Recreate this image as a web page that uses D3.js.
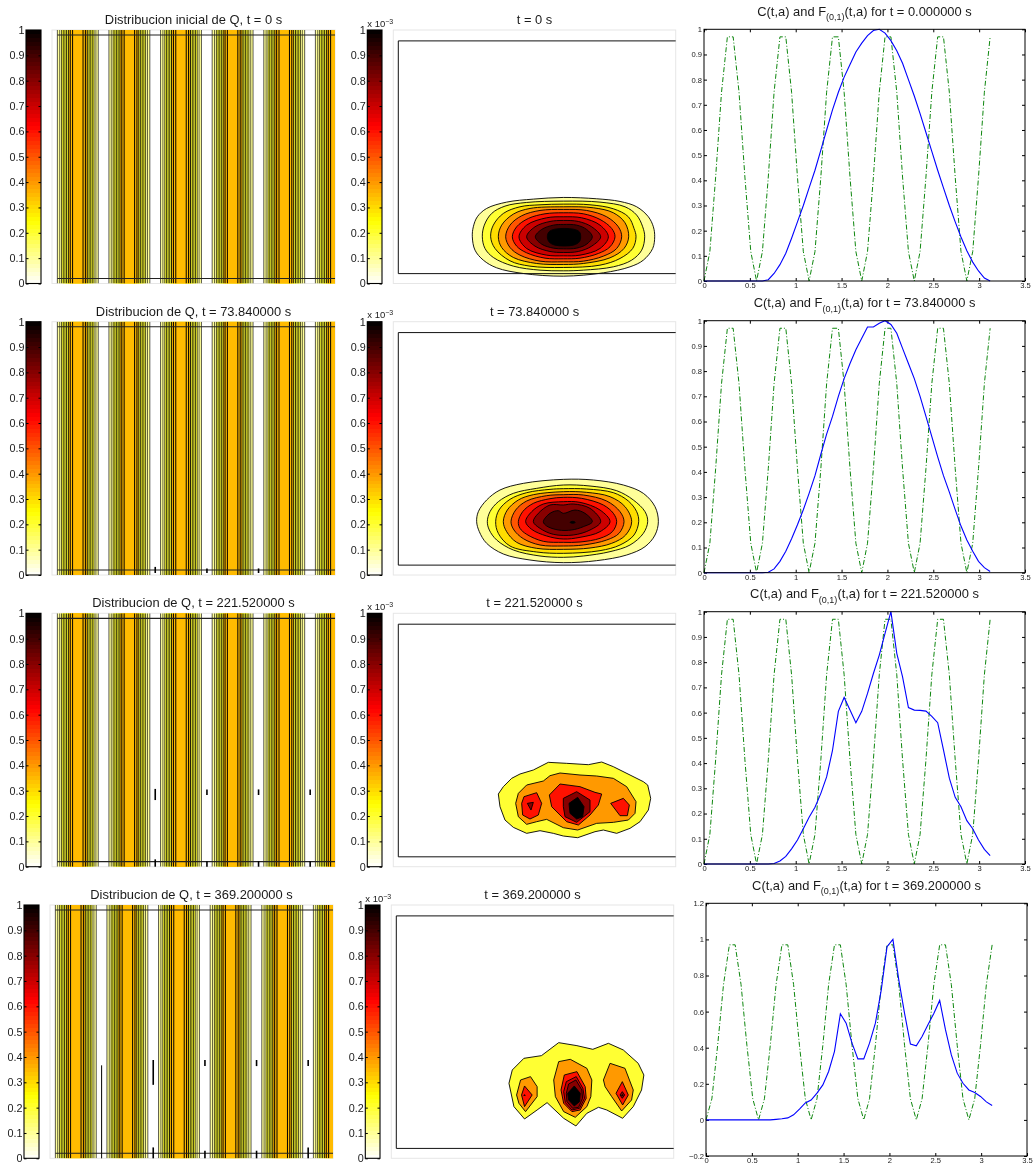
<!DOCTYPE html>
<html>
  <head>
    <meta charset="UTF-8">
    <title>Distribucion de Q</title>
    <script src="https://d3js.org/d3.v7.min.js"></script>
    <style>
      body { margin: 0; background: #fff; }
      svg { display: block; filter: blur(0.35px); }
      text { font-family: "Liberation Sans", Arial, sans-serif; fill: #1a1a1a; }
      .title { font-size: 12.9px; text-anchor: middle; }
      .bar text { font-size: 10.8px; }
      .small text { font-size: 7.6px; }
      .cell { shape-rendering: crispEdges; }
      .domain { display: none; }
    </style>
  </head>
  <body>
    <div id="chart"></div>
    <script>
      const leftTitles = ["Distribucion inicial de Q, t = 0 s", "Distribucion de Q, t = 73.840000 s", "Distribucion de Q, t = 221.520000 s", "Distribucion de Q, t = 369.200000 s"];
      const midTitles = ["t = 0 s", "t = 73.840000 s", "t = 221.520000 s", "t = 369.200000 s"];
      const rightTimes = ["0.000000", "73.840000", "221.520000", "369.200000"];

      const barTicks = [0, 0.1, 0.2, 0.3, 0.4, 0.5, 0.6, 0.7, 0.8, 0.9, 1];
      const barLabels = ["0", "0.1", "0.2", "0.3", "0.4", "0.5", "0.6", "0.7", "0.8", "0.9", "1"];
      const xTicks = [0, 0.5, 1, 1.5, 2, 2.5, 3, 3.5];
      const xLabels = ["0", "0.5", "1", "1.5", "2", "2.5", "3", "3.5"];
      const yTicksWide = [-0.2, 0, 0.2, 0.4, 0.6, 0.8, 1, 1.2];
      const yLabelsWide = ["\u22120.2", "0", "0.2", "0.4", "0.6", "0.8", "1", "1.2"];

      // the a grid shared by both curves in the right column
      const aValues = [0, 0.064, 0.127, 0.191, 0.255, 0.318, 0.382, 0.446, 0.51, 0.573, 0.637, 0.701, 0.764, 0.828, 0.892, 0.955, 1.019, 1.083, 1.146, 1.21, 1.274, 1.337, 1.401, 1.465, 1.528, 1.592, 1.656, 1.72, 1.783, 1.847, 1.911, 1.974, 2.038, 2.102, 2.165, 2.229, 2.293, 2.356, 2.42, 2.484, 2.548, 2.611, 2.675, 2.739, 2.802, 2.866, 2.93, 2.993, 3.057, 3.12];
      const fValues = [0, 0.117, 0.413, 0.75, 0.97, 0.97, 0.75, 0.413, 0.117, 0, 0.117, 0.413, 0.75, 0.97, 0.97, 0.75, 0.413, 0.117, 0, 0.117, 0.413, 0.75, 0.97, 0.97, 0.75, 0.413, 0.117, 0, 0.117, 0.413, 0.75, 0.97, 0.97, 0.75, 0.413, 0.117, 0, 0.117, 0.413, 0.75, 0.97, 0.97, 0.75, 0.413, 0.117, 0, 0.117, 0.413, 0.75, 0.97];
      const cValues0 = [0, 0, 0, 0, 0, 0, 0, 0, 0, 0, 0, 0.005, 0.03, 0.065, 0.11, 0.17, 0.235, 0.3, 0.37, 0.44, 0.52, 0.6, 0.68, 0.75, 0.81, 0.86, 0.91, 0.945, 0.975, 0.995, 1, 0.985, 0.955, 0.915, 0.865, 0.8, 0.735, 0.665, 0.59, 0.515, 0.44, 0.37, 0.3, 0.235, 0.175, 0.12, 0.075, 0.04, 0.012, 0];
      const cValues1 = [0, 0, 0, 0, 0, 0, 0, 0, 0, 0, 0, 0.002, 0.015, 0.045, 0.085, 0.135, 0.19, 0.25, 0.315, 0.385, 0.47, 0.55, 0.62, 0.7, 0.77, 0.83, 0.885, 0.93, 0.975, 0.975, 0.99, 1, 0.985, 0.95, 0.89, 0.83, 0.77, 0.7, 0.62, 0.54, 0.46, 0.385, 0.32, 0.25, 0.185, 0.13, 0.085, 0.045, 0.02, 0.005];
      const cValues2 = [0, 0, 0, 0, 0, 0, 0, 0, 0, 0, 0, 0, 0.002, 0.012, 0.03, 0.06, 0.095, 0.14, 0.185, 0.225, 0.28, 0.345, 0.45, 0.605, 0.66, 0.61, 0.56, 0.605, 0.676, 0.755, 0.828, 0.914, 1, 0.835, 0.742, 0.62, 0.61, 0.609, 0.606, 0.585, 0.56, 0.452, 0.34, 0.264, 0.227, 0.172, 0.14, 0.095, 0.058, 0.033];
      const cValues3 = [0, 0, 0, 0, 0, 0, 0, 0, 0, 0, 0, 0, 0.003, 0.006, 0.011, 0.028, 0.06, 0.094, 0.11, 0.148, 0.194, 0.268, 0.38, 0.588, 0.536, 0.425, 0.338, 0.338, 0.425, 0.536, 0.72, 0.96, 1, 0.776, 0.59, 0.42, 0.41, 0.462, 0.527, 0.59, 0.662, 0.5, 0.36, 0.259, 0.203, 0.166, 0.152, 0.13, 0.1, 0.08];

      // stripes of the left column: centres on a, half widths of the contour lines, level used to fill each band
      const stripeCenters = [0.2865, 0.859, 1.432, 2.005, 2.578, 3.151];
      const stripeHalfWidths = [0.227, 0.201, 0.18, 0.161, 0.143, 0.125, 0.105, 0.084, 0.058];
      const stripeLevels = [0.1, 0.1, 0.2, 0.2, 0.2, 0.2, 0.35, 0.35, 0.35];
      const stripeLineWeights = [0.65, 0.6, 0.7, 0.7, 0.7, 0.8, 0.9, 1, 1];
      const edgeLevels = [0.02, 0.98];

      // short vertical marks left in the gaps: [a, y from, y to]
      const gapMarks0 = [];
      const gapMarks1 = [[1.146, 0.008, 0.032], [1.72, 0.008, 0.026], [2.293, 0.008, 0.026]];
      const gapMarks2 = [[1.146, 0.263, 0.307], [1.146, 0, 0.029], [1.72, 0.283, 0.305], [1.72, 0, 0.022], [2.293, 0.283, 0.305], [2.293, 0, 0.022], [2.866, 0.283, 0.305], [2.866, 0, 0.022]];
      const gapMarks3 = [[0.573, 0, 0.367], [1.146, 0.29, 0.388], [1.146, 0, 0.043], [1.72, 0.364, 0.388], [1.72, 0, 0.03], [2.293, 0.364, 0.388], [2.293, 0, 0.03], [2.866, 0.364, 0.388], [2.866, 0, 0.043]];

      // contour rings of the middle column in readout units (see fieldDomains)
      const levels0 = [0.1, 0.2, 0.3, 0.4, 0.5, 0.6, 0.7, 0.8, 0.9, 1];
      const rings0 = [
        [[367,710],[370,680],[382,650],[410,625],[470,606],[550,597],[640,592],[740,596],[810,604],[860,620],[895,650],[910,680],[914,710],[908,745],[880,780],[840,800],[760,818],[640,828],[520,820],[440,803],[400,780],[375,750]],
        [[397,710],[403,675],[425,640],[465,618],[530,607],[640,603],[750,606],[825,620],[860,645],[878,680],[884,710],[875,750],[845,780],[790,800],[700,810],[640,812],[570,810],[490,798],[430,772],[405,745]],
        [[422,710],[430,675],[460,640],[510,620],[570,614],[640,612],[720,614],[790,626],[835,650],[852,685],[858,710],[848,745],[810,775],[750,795],[640,802],[540,798],[480,782],[435,745]],
        [[445,710],[455,675],[490,642],[540,625],[640,620],[730,623],[790,638],[825,668],[836,710],[822,745],[780,773],[700,790],[640,793],[560,790],[490,772],[455,742]],
        [[467,710],[480,675],[515,647],[570,631],[640,628],[710,631],[770,650],[805,680],[815,710],[800,745],[760,768],[700,783],[640,785],[570,783],[510,765],[480,742]],
        [[487,710],[500,680],[535,655],[585,641],[640,638],[700,641],[750,658],[785,685],[795,710],[780,740],[745,760],[690,774],[640,776],[585,774],[530,758],[500,738]],
        [[507,710],[530,675],[590,653],[640,650],[695,653],[750,675],[775,710],[750,745],[690,765],[640,767],[590,765],[530,745]],
        [[530,710],[555,680],[600,664],[640,661],[685,664],[725,680],[752,710],[725,738],[685,754],[640,757],[600,754],[555,738]],
        [[556,710],[575,688],[610,675],[640,673],[680,675],[710,688],[727,710],[710,732],[680,744],[640,746],[610,744],[575,732]],
        [[592,710],[597,695],[615,687],[670,687],[688,695],[692,710],[688,725],[670,735],[615,735],[597,725]]
      ];
      const levels1 = [0.1, 0.2, 0.3, 0.4, 0.5, 0.6, 0.7, 0.8, 0.9, 1];
      const rings1 = [
        [[380,665],[385,635],[410,600],[450,570],[520,550],[640,538],[730,540],[820,555],[880,580],[915,620],[925,665],[915,705],[885,740],[830,765],[740,782],[640,788],[540,780],[460,762],[410,730],[388,695]],
        [[412,665],[420,635],[445,605],[490,580],[560,565],[640,555],[720,558],[800,572],[850,600],[885,635],[893,665],[880,700],[840,735],[780,755],[700,768],[640,772],[570,768],[490,750],[440,720],[418,690]],
        [[437,665],[447,630],[480,598],[530,578],[600,568],[640,566],[710,567],[790,578],[835,603],[860,635],[866,665],[852,705],[810,735],[750,752],[640,760],[560,756],[480,738],[445,700]],
        [[460,665],[472,630],[505,600],[550,584],[640,575],[710,577],[780,590],[825,620],[845,665],[827,705],[785,730],[720,744],[640,748],[560,745],[500,727],[470,695]],
        [[483,665],[497,630],[530,603],[590,587],[640,584],[700,585],[770,603],[810,635],[822,665],[807,700],[770,720],[700,735],[640,738],[570,735],[520,716],[492,690]],
        [[505,665],[518,635],[550,610],[600,596],[640,592],[695,595],[760,615],[790,640],[800,665],[787,695],[750,715],[690,726],[640,727],[580,724],[530,703],[510,685]],
        [[527,665],[545,635],[580,612],[640,605],[690,607],[750,630],[780,665],[750,695],[690,712],[640,717],[590,708],[545,688]],
        [[550,665],[565,640],[600,615],[640,615],[670,612],[720,625],[752,665],[720,690],[670,705],[610,703],[570,685]],
        [[580,665],[600,640],[625,632],[640,640],[675,630],[705,640],[727,665],[700,680],[665,690],[625,690],[590,678]],
        [[660,667],[668,664],[676,667],[668,670]]
      ];
      const levels2 = [0.2, 0.4, 0.6, 0.6, 0.6, 0.8, 0.8, 1];
      const rings2 = [
        [[445,612],[460,590],[485,565],[510,552],[550,540],[595,517],[650,520],[715,524],[755,516],[790,530],[840,555],[880,575],[893,585],[902,625],[895,660],[870,695],[840,715],[800,730],[760,720],[735,725],[683,743],[640,738],[610,730],[570,722],[530,730],[490,712],[465,690],[450,650]],
        [[497,640],[505,610],[530,585],[580,573],[600,557],[630,549],[690,555],[740,558],[790,565],[830,590],[858,635],[855,670],[835,690],[790,697],[740,700],[683,720],[640,713],[590,688],[560,695],[530,703],[505,680]],
        [[515,640],[522,620],[560,608],[575,640],[565,675],[540,687],[518,675]],
        [[598,615],[630,582],[690,590],[735,607],[755,612],[745,645],[720,675],[685,705],[650,695],[605,650]],
        [[782,640],[820,625],[838,645],[832,677],[810,677]],
        [[532,640],[550,637],[543,660]],
        [[640,625],[680,605],[720,630],[720,665],[680,697],[645,680],[640,650]],
        [[657,640],[683,622],[702,650],[698,680],[680,687],[660,670]]
      ];
      const levels3 = [0.2, 0.4, 0.4, 0.4, 0.6, 0.6, 0.6, 0.7, 0.8, 0.8, 1, 1, 1];
      const rings3 = [
        [[475,610],[485,570],[520,535],[573,527],[625,488],[680,497],[728,508],[775,490],[820,510],[865,550],[882,585],[875,630],[850,680],[818,715],[770,690],[745,682],[710,700],[677,738],[640,715],[590,668],[560,690],[522,717],[490,680]],
        [[498,645],[510,600],[540,590],[560,620],[560,650],[525,695],[505,670]],
        [[610,600],[625,545],[660,538],[710,565],[725,600],[722,650],[710,680],[675,712],[640,695],[615,650]],
        [[760,600],[780,550],[825,565],[850,630],[845,660],[815,693],[785,650],[765,620]],
        [[513,645],[522,618],[545,645],[522,680]],
        [[632,630],[642,585],[680,575],[705,620],[708,655],[690,690],[665,695],[640,670]],
        [[798,640],[817,605],[835,645],[818,675]],
        [[640,635],[648,605],[678,590],[698,625],[703,655],[688,685],[665,690],[645,668]],
        [[648,640],[655,612],[677,600],[695,630],[697,655],[685,682],[667,685],[650,665]],
        [[810,645],[817,635],[824,645],[817,655]],
        [[652,640],[672,618],[690,640],[688,665],[672,678],[655,660]],
        [[520,646],[522,644],[524,646],[522,648]],
        [[815,646],[817,644],[819,646],[817,648]]
      ];

      const fieldDomains = [
        { x: [130, 977], y: [850, 90] },
        { x: [130, 977], y: [825, 65] },
        { x: [130, 977], y: [830, 70] },
        { x: [120, 972], y: [835, 75] }
      ];

      const cSeries = [cValues0, cValues1, cValues2, cValues3];
      const levelSets = [levels0, levels1, levels2, levels3];
      const ringSets = [rings0, rings1, rings2, rings3];
      const gapSets = [gapMarks0, gapMarks1, gapMarks2, gapMarks3];

      // layout, in pixels, one entry per row
      const rowTops = [30, 321.7, 613.3, 905];
      const rowBottoms = [283.5, 575, 866.7, 1158.3];
      const lineTops = [29.3, 320.7, 611.7, 903.3];
      const lineBottoms = [281, 572.7, 864, 1156];
      const rowShift = [0, 0, 0, -2];

      const width = 1035;
      const height = 1167;

      const svg = d3.select("#chart")
        .append("svg")
        .attr("width", width)
        .attr("height", height);

      // reversed "hot" colormap
      const color = d3.scaleLinear()
        .domain([0, 0.25, 0.625, 1])
        .range(["#ffffff", "#ffff00", "#ff0000", "#000000"]);
      const barCells = d3.range(64);

      function drawColorbar(x0, x1, top, bottom) {
        const y = d3.scaleLinear().domain([0, 1]).range([bottom, top]);
        const g = svg.append("g").attr("class", "bar");
        g.selectAll("rect.cell")
          .data(barCells)
          .enter()
          .append("rect")
          .attr("class", "cell")
          .attr("x", x0)
          .attr("width", x1 - x0)
          .attr("y", d => y((d + 1) / 64))
          .attr("height", d => y(d / 64) - y((d + 1) / 64) + 0.5)
          .attr("fill", d => color((d + 0.5) / 64));
        g.append("g")
          .attr("transform", `translate(${x0},0)`)
          .call(d3.axisLeft(y).tickValues(barTicks).tickFormat((d, i) => barLabels[i]).tickSizeInner(-2.5).tickSizeOuter(0).tickPadding(1.5));
        g.append("g")
          .attr("transform", `translate(${x1},0)`)
          .call(d3.axisRight(y).tickValues(barTicks).tickFormat("").tickSizeInner(-2.5).tickSizeOuter(0));
        g.append("rect")
          .attr("x", x0)
          .attr("y", top)
          .attr("width", x1 - x0)
          .attr("height", bottom - top)
          .attr("fill", "none")
          .attr("stroke", "#000")
          .attr("stroke-width", 1.1);
      }

      leftTitles.forEach((title, row) => {
        const shift = rowShift[row];
        const top = rowTops[row];
        const bottom = rowBottoms[row];

        // left column: colorbar + stripes
        drawColorbar(26 + shift, 41 + shift, top, bottom);
        const ax = d3.scaleLinear().domain([0, Math.PI]).range([52 + shift, 335 + shift]);
        const ay = d3.scaleLinear().domain([0, 1]).range([bottom, top]);
        svg.append("clipPath").attr("id", `clip${row}`)
          .append("rect")
          .attr("x", 52 + shift).attr("y", top)
          .attr("width", 283).attr("height", bottom - top);
        svg.append("rect")
          .attr("x", 52 + shift).attr("y", top)
          .attr("width", 283).attr("height", bottom - top)
          .attr("fill", "none").attr("stroke", "#e6e6e6");
        const stripes = svg.append("g").attr("clip-path", `url(#clip${row})`);
        stripeCenters.forEach(c => {
          stripes.selectAll(null)
            .data(stripeHalfWidths)
            .enter()
            .append("rect")
            .attr("x", w => ax(c - w))
            .attr("width", w => ax(c + w) - ax(c - w))
            .attr("y", top)
            .attr("height", bottom - top)
            .attr("fill", (w, i) => color(stripeLevels[i]));
          stripeHalfWidths.forEach((w, i) => {
            stripes.selectAll(null)
              .data([c - w, c + w])
              .enter()
              .append("line")
              .attr("x1", d => ax(d))
              .attr("x2", d => ax(d))
              .attr("y1", top)
              .attr("y2", bottom)
              .attr("stroke", "#000")
              .attr("stroke-width", stripeLineWeights[i]);
          });
        });
        stripes.selectAll(null)
          .data(edgeLevels)
          .enter()
          .append("line")
          .attr("x1", ax(stripeCenters[0] - stripeHalfWidths[0]))
          .attr("x2", ax.range()[1])
          .attr("y1", d => ay(d))
          .attr("y2", d => ay(d))
          .attr("stroke", "#222")
          .attr("stroke-width", 1.1);
        svg.append("g").selectAll("line")
          .data(gapSets[row])
          .enter()
          .append("line")
          .attr("x1", d => ax(d[0]))
          .attr("x2", d => ax(d[0]))
          .attr("y1", d => ay(d[1]))
          .attr("y2", d => ay(d[2]))
          .attr("stroke", "#000")
          .attr("stroke-width", d => d[2] - d[1] > 0.3 ? 1 : 1.6);
        svg.append("text").attr("class", "title")
          .attr("x", ax(Math.PI / 2)).attr("y", top - 6)
          .text(title);

        // middle column: colorbar + filled contours
        drawColorbar(367.3 + shift, 382 + shift, top, bottom);
        const bar = svg.append("text")
          .attr("x", 367.3 + shift)
          .attr("y", top - 3.5)
          .style("font-size", "9.5px")
          .text("x 10");
        bar.append("tspan").attr("dy", -3).style("font-size", "7px").text("\u22123");

        const fx = d3.scaleLinear().domain(fieldDomains[row].x).range([393.3 + shift, 675.7 + shift]);
        const fy = d3.scaleLinear().domain(fieldDomains[row].y).range([bottom, top]);
        const line = d3.line()
          .x(d => fx(d[0]))
          .y(d => fy(d[1]))
          .curve(row < 2 ? d3.curveCatmullRomClosed : d3.curveLinearClosed);
        svg.append("rect")
          .attr("x", 393.3 + shift).attr("y", top)
          .attr("width", 282.4).attr("height", bottom - top)
          .attr("fill", "none").attr("stroke", "#e6e6e6");
        svg.append("g").selectAll("path")
          .data(ringSets[row])
          .enter()
          .append("path")
          .attr("d", line)
          .attr("fill", (d, i) => color(levelSets[row][i]))
          .attr("stroke", "#000")
          .attr("stroke-width", 0.9);
        // the box the contour routine leaves around the domain
        const bx = fx.range()[0] + 0.0177 * 282.4;
        const bx2 = fx.range()[1];
        const by = d3.scaleLinear().domain([0, 1]).range([bottom, top]);
        svg.append("path")
          .attr("d", `M${bx2},${by(0.957)}H${bx}V${by(0.039)}H${bx2}`)
          .attr("fill", "none")
          .attr("stroke", "#111")
          .attr("stroke-width", 1);
        svg.append("text").attr("class", "title")
          .attr("x", fx(d3.mean(fieldDomains[row].x))).attr("y", top - 6)
          .text(midTitles[row]);

        // right column: both curves
        const x = d3.scaleLinear().domain([0, 3.5]).range([704 - shift, 1025 - shift]);
        const wide = row === 3;
        const y = d3.scaleLinear().domain(wide ? [-0.2, 1.2] : [0, 1]).range([lineBottoms[row], lineTops[row]]);
        const yTickValues = wide ? yTicksWide : barTicks;
        const yTickLabels = wide ? yLabelsWide : barLabels;
        const g = svg.append("g").attr("class", "small");
        g.append("g")
          .attr("transform", `translate(${x(0)},0)`)
          .call(d3.axisLeft(y).tickValues(yTickValues).tickFormat((d, i) => yTickLabels[i]).tickSizeInner(-3).tickSizeOuter(0).tickPadding(2));
        g.append("g")
          .attr("transform", `translate(${x(3.5)},0)`)
          .call(d3.axisRight(y).tickValues(yTickValues).tickFormat("").tickSizeInner(-3).tickSizeOuter(0));
        g.append("g")
          .attr("transform", `translate(0,${y.range()[0]})`)
          .call(d3.axisBottom(x).tickValues(xTicks).tickFormat((d, i) => xLabels[i]).tickSizeInner(-3).tickSizeOuter(0).tickPadding(2));
        g.append("g")
          .attr("transform", `translate(0,${y.range()[1]})`)
          .call(d3.axisTop(x).tickValues(xTicks).tickFormat("").tickSizeInner(-3).tickSizeOuter(0));
        const curve = d3.line()
          .x(d => x(d[0]))
          .y(d => y(d[1]));
        g.append("path")
          .attr("d", curve(d3.zip(aValues, fValues)))
          .attr("fill", "none")
          .attr("stroke", "#008000")
          .attr("stroke-width", 0.95)
          .attr("stroke-dasharray", "5 2 1 2");
        g.append("path")
          .attr("d", curve(d3.zip(aValues, cSeries[row])))
          .attr("fill", "none")
          .attr("stroke", "#0000ff")
          .attr("stroke-width", 1.1);
        g.append("rect")
          .attr("x", x(0))
          .attr("y", y.range()[1])
          .attr("width", x(3.5) - x(0))
          .attr("height", y.range()[0] - y.range()[1])
          .attr("fill", "none")
          .attr("stroke", "#000")
          .attr("stroke-width", 1);
        const heading = svg.append("text").attr("class", "title")
          .attr("x", x(1.75))
          .attr("y", y.range()[1] - 13.6)
          .text("C(t,a) and F");
        heading.append("tspan").attr("dy", 4.5).style("font-size", "9px").text("(0,1)");
        heading.append("tspan").attr("dy", -4.5).text(`(t,a) for t = ${rightTimes[row]} s`);
      });
    </script>
  </body>
</html>
